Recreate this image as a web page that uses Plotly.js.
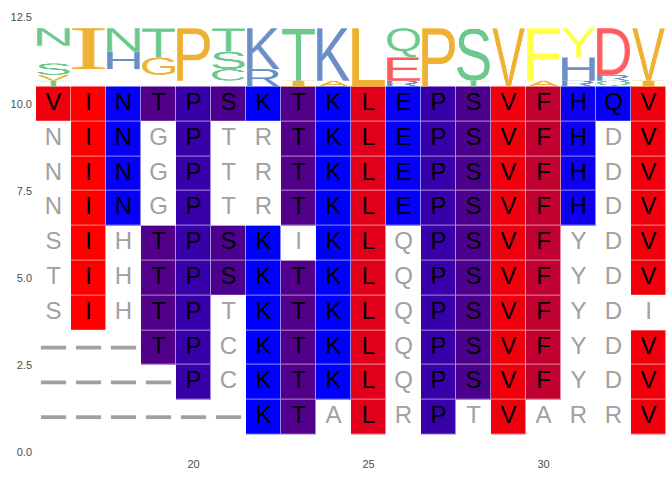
<!DOCTYPE html>
<html>
<head>
<meta charset="utf-8">
<script src="https://cdn.plot.ly/plotly-3.0.1.min.js"></script>
<style>html,body{margin:0;padding:0;background:#fff;}#chart{width:672px;height:480px;}</style>
</head>
<body>
<div id="chart"></div>
<script>
// ---- data ----
const positions = [16,17,18,19,20,21,22,23,24,25,26,27,28,29,30,31,32,33];
const rowY = [10,9,8,7,6,5,4,3,2,1];
const sequences = [
  "VINTPSKTKLEPSVFHQV",
  "NINGPTRTKLEPSVFHDV",
  "NINGPTRTKLEPSVFHDV",
  "NINGPTRTKLEPSVFHDV",
  "SIHTPSKIKLQPSVFYDV",
  "TIHTPSKTKLQPSVFYDV",
  "SIHTPTKTKLQPSVFYDI",
  "---TPCKTKLQPSVFYDV",
  "----PCKTKLQPSVFYDV",
  "------KTALRPTVARRV"
];
const xTicks = [20,25,30];
const yTicks = [0,2.5,5,7.5,10,12.5];

// ---- styles ----
const cellColours = {I:'#ff0000', V:'#f0000c', L:'#e1001a', F:'#c0002e', C:'#c2003d', M:'#b0004f', A:'#ad0052',
  G:'#6a0095', T:'#52008a', S:'#4c008e', W:'#5b00a4', Y:'#4f00b0', P:'#3800a8', H:'#0c00ee',
  E:'#0600f6', Q:'#0600f6', D:'#0600f6', N:'#0600f6', K:'#0000ff', R:'#0000ff'};
const logoColours = {orange:'#efb134', green:'#6cc88c', blue:'#6a8fc6', red:'#fe5b5e', yellow:'#ffff47'};
const logoGroup = {V:'orange',I:'orange',L:'orange',P:'orange',A:'orange',G:'orange',M:'orange',W:'orange',
  N:'green',S:'green',T:'green',Q:'green',C:'green', K:'blue',R:'blue',H:'blue', D:'red',E:'red', F:'yellow',Y:'yellow'};
const logoBase = 10.5, logoHeight = 1.68, logoWidth = 0.94;
const matchText = '#000000', otherText = '#a0a0a0';

// ---- cells ----
const ref = sequences[0];
const colourList = [];
const zData = [];
const txtMatch = {x:[],y:[],t:[]}, txtOther = {x:[],y:[],t:[]}, gaps = {x:[],y:[]};
sequences.forEach((s, r) => {
  const row = [];
  for (let c = 0; c < positions.length; c++) {
    const ch = s[c];
    if (ch === '-') { row.push(null); gaps.x.push(positions[c]); gaps.y.push(rowY[r]); continue; }
    if (ch === ref[c]) {
      const col = cellColours[ch];
      let idx = colourList.indexOf(col);
      if (idx < 0) { colourList.push(col); idx = colourList.length - 1; }
      row.push(idx);
      txtMatch.x.push(positions[c]); txtMatch.y.push(rowY[r]); txtMatch.t.push(ch);
    } else {
      row.push(null);
      txtOther.x.push(positions[c]); txtOther.y.push(rowY[r]); txtOther.t.push(ch);
    }
  }
  zData.push(row);
});
const n = colourList.length;
const cscale = [];
colourList.forEach((c, i) => { cscale.push([i / n, c]); cscale.push([(i + 1) / n, c]); });

const heatBase = {type:'heatmap', x:positions, y:rowY, z:zData, colorscale:cscale, zmin:-0.5, zmax:n-0.5,
  showscale:false, hoverinfo:'skip'};

const traces = [
  Object.assign({}, heatBase, {opacity:0.45}),
  Object.assign({}, heatBase, {xgap:1, ygap:1}),
  {type:'scatter', mode:'text', x:txtMatch.x, y:txtMatch.y, text:txtMatch.t, textposition:'middle center',
   textfont:{family:'"Liberation Sans", Arial, sans-serif', size:24, color:matchText}, hoverinfo:'skip', showlegend:false},
  {type:'scatter', mode:'text', x:txtOther.x, y:txtOther.y, text:txtOther.t, textposition:'middle center',
   textfont:{family:'"Liberation Sans", Arial, sans-serif', size:24, color:otherText}, hoverinfo:'skip', showlegend:false},
  {type:'scatter', mode:'markers', x:gaps.x, y:gaps.y, marker:{symbol:'line-ew', size:18, line:{width:3.8, color:otherText}},
   hoverinfo:'skip', showlegend:false}
];

// ---- logo glyphs (stretched letters) ----
const glyphCache = {};
function glyph(ch, colour) {
  const key = ch + colour;
  if (glyphCache[key]) return glyphCache[key];
  const W = 140, H = 200;
  const cv = document.createElement('canvas'); cv.width = W; cv.height = H;
  const ctx = cv.getContext('2d');
  const fam = ch === 'I' ? '"Liberation Serif", serif' : '"Liberation Sans", Arial, sans-serif';
  ctx.font = '200px ' + fam;
  ctx.textAlign = 'left'; ctx.textBaseline = 'alphabetic';
  const m = ctx.measureText(ch);
  const iw = m.actualBoundingBoxLeft + m.actualBoundingBoxRight;
  const ih = m.actualBoundingBoxAscent + m.actualBoundingBoxDescent;
  ctx.setTransform(W / iw, 0, 0, H / ih, 0, 0);
  ctx.fillStyle = colour;
  ctx.fillText(ch, m.actualBoundingBoxLeft, m.actualBoundingBoxAscent);
  const url = cv.toDataURL('image/png');
  glyphCache[key] = url;
  return url;
}

const images = [];
const nSeq = sequences.length;
positions.forEach((p, c) => {
  const counts = {};
  sequences.forEach(s => { counts[s[c]] = (counts[s[c]] || 0) + 1; });
  const letters = Object.keys(counts).sort((a, b) => counts[a] - counts[b] || (a < b ? -1 : 1));
  let y0 = logoBase;
  letters.forEach(ch => {
    const h = counts[ch] / nSeq * logoHeight;
    if (ch !== '-') {
      images.push({source: glyph(ch, logoColours[logoGroup[ch]]), xref:'x', yref:'y',
        x: p - logoWidth / 2, y: y0 + h, sizex: logoWidth, sizey: h, sizing:'stretch',
        xanchor:'left', yanchor:'top', layer:'above'});
    }
    y0 += h;
  });
});

const tickFont = {family:'"Liberation Sans", Arial, sans-serif', size:11, color:'#4d4d4d'};
const layout = {
  width:672, height:480,
  margin:{l:36, r:6, t:17, b:28},
  paper_bgcolor:'#ffffff', plot_bgcolor:'#ffffff',
  showlegend:false,
  xaxis:{range:[15.5,33.5], tickvals:xTicks, ticktext:xTicks.map(String), showgrid:false, zeroline:false,
    showline:false, ticks:'', ticklabelstandoff:4, tickfont:tickFont},
  yaxis:{range:[0,12.5], tickvals:yTicks, ticktext:yTicks.map(v => v.toFixed(1)), showgrid:false, zeroline:false,
    showline:false, ticks:'', ticklabelstandoff:3, tickfont:tickFont},
  images: images
};

Plotly.newPlot('chart', traces, layout, {staticPlot:true, displayModeBar:false});
</script>
</body>
</html>
